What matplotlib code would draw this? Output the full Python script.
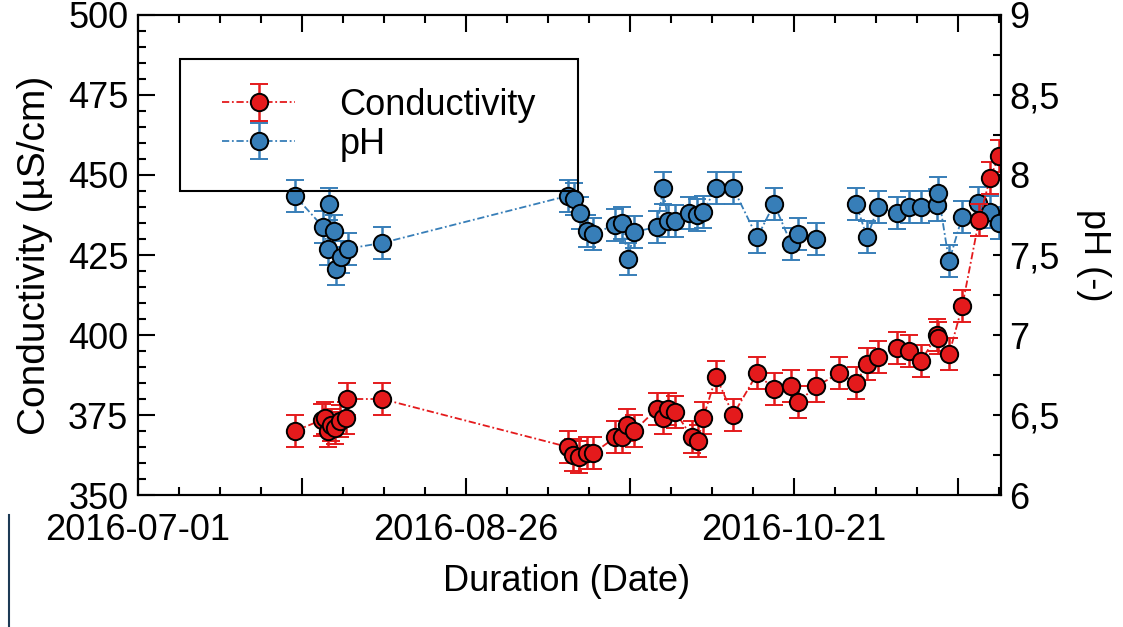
import numpy as np
import pandas as pd
import matplotlib
matplotlib.use("Agg")
import matplotlib.pyplot as plt
from matplotlib.ticker import MultipleLocator, FuncFormatter
from matplotlib.patches import Rectangle
from matplotlib.lines import Line2D

plt.rcParams["font.family"] = ["Liberation Sans", "DejaVu Sans"]
plt.rcParams["font.size"] = 26

# -----------------------------
# Data
# -----------------------------
cond_dates = [
    "2016-07-27 19:00", "2016-08-01 10:00", "2016-08-01 22:00", "2016-08-02 11:00",
    "2016-08-02 23:00", "2016-08-03 15:00", "2016-08-04 12:00", "2016-08-05 12:00",
    "2016-08-05 16:00", "2016-08-11 16:00", "2016-09-12 10:00", "2016-09-13 06:00",
    "2016-09-14 07:00", "2016-09-15 16:00", "2016-09-16 16:00", "2016-09-20 11:00",
    "2016-09-21 15:00", "2016-09-22 12:00", "2016-09-23 16:00", "2016-09-27 15:00",
    "2016-09-28 15:00", "2016-09-29 12:00", "2016-09-30 17:00", "2016-10-03 14:00",
    "2016-10-04 15:00", "2016-10-05 11:00", "2016-10-07 17:00", "2016-10-10 14:00",
    "2016-10-14 17:00", "2016-10-17 14:00", "2016-10-20 12:00", "2016-10-21 17:00",
    "2016-10-24 18:00", "2016-10-28 17:00", "2016-10-31 14:00", "2016-11-02 11:00",
    "2016-11-04 08:00", "2016-11-07 14:00", "2016-11-09 15:00", "2016-11-11 17:00",
    "2016-11-14 10:00", "2016-11-14 14:00", "2016-11-16 11:00", "2016-11-18 17:00",
    "2016-11-21 14:00", "2016-11-23 11:00", "2016-11-25 00:00",
]
cond_values = [
    370, 373.5, 374, 370, 372, 371, 373, 374, 380, 380,
    365, 362.5, 362, 363, 363, 368, 368, 372, 370, 377,
    374, 377, 376, 368, 367, 374, 387, 375, 388, 383,
    384, 379, 384, 388, 385, 391, 393, 396, 395, 392,
    400, 399, 394, 409, 436, 449, 456,
]

ph_dates = [
    "2016-07-27 19:00", "2016-08-01 14:00", "2016-08-02 11:00", "2016-08-02 15:00",
    "2016-08-03 11:00", "2016-08-03 19:00", "2016-08-04 16:00", "2016-08-05 20:00",
    "2016-08-11 16:00", "2016-09-12 10:00", "2016-09-13 11:00", "2016-09-14 11:00",
    "2016-09-15 16:00", "2016-09-16 16:00", "2016-09-20 11:00", "2016-09-21 15:00",
    "2016-09-22 16:00", "2016-09-23 16:00", "2016-09-27 15:00", "2016-09-28 15:00",
    "2016-09-29 12:00", "2016-09-30 17:00", "2016-10-03 02:00", "2016-10-04 11:00",
    "2016-10-05 11:00", "2016-10-07 17:00", "2016-10-10 14:00", "2016-10-14 17:00",
    "2016-10-17 14:00", "2016-10-20 12:00", "2016-10-21 17:00", "2016-10-24 18:00",
    "2016-10-28 17:00", "2016-10-31 14:00", "2016-11-02 11:00", "2016-11-04 08:00",
    "2016-11-07 14:00", "2016-11-09 15:00", "2016-11-11 17:00", "2016-11-14 10:00",
    "2016-11-14 14:00", "2016-11-16 11:00", "2016-11-18 17:00", "2016-11-21 10:00",
    "2016-11-23 11:00", "2016-11-25 00:00",
]
ph_values = [
    7.87, 7.675, 7.54, 7.82, 7.65, 7.41, 7.49, 7.54, 7.575,
    7.87, 7.85, 7.76, 7.65, 7.63, 7.69, 7.70, 7.475, 7.645,
    7.675, 7.92, 7.71, 7.71, 7.76, 7.75, 7.77, 7.92, 7.92,
    7.61, 7.82, 7.57, 7.63, 7.60, np.nan, 7.82, 7.61, 7.80,
    7.76, 7.80, 7.80, 7.81, 7.89, 7.46, 7.74, 7.825, 7.77, 7.70,
]

COND_ERR = 5.0
PH_ERR = 0.1

X_START = pd.Timestamp("2016-07-01")
X_END = pd.Timestamp("2016-11-25 08:00")
major_dates = pd.date_range(X_START, periods=6, freq="28D")
minor_dates = pd.date_range(X_START, X_END, freq="7D")

RED = "#e41a1c"
BLUE = "#377eb8"
LINE_STYLE = (0, (4, 1.5, 1, 1.5))

cond_t = pd.to_datetime(cond_dates)
ph_t = pd.to_datetime(ph_dates)

# -----------------------------
# Figure
# -----------------------------
fig = plt.figure(figsize=(11.23, 6.27), dpi=100)
ax = fig.add_axes([0.1229, 0.2105, 0.7685, 0.7656])
ax2 = ax.twinx()

style = dict(marker="o", ms=12.5, mec="black", mew=1.4, lw=1.3, ls=LINE_STYLE,
             elinewidth=1.8, capsize=6.3, capthick=2.2)

h_ph = ax2.errorbar(ph_t, ph_values, yerr=PH_ERR, color=BLUE, mfc=BLUE,
                    label="pH", **style)
h_cond = ax.errorbar(cond_t, cond_values, yerr=COND_ERR, color=RED, mfc=RED,
                     label="Conductivity", **style)

# conductivity on top of pH
ax.set_zorder(ax2.get_zorder() + 1)
ax.patch.set_visible(False)

ax.set_xlim(X_START, X_END)
ax.set_ylim(350, 500)
ax2.set_ylim(6, 9)

ax.set_xticks(major_dates)
ax.set_xticklabels([d.strftime("%Y-%m-%d") if i % 2 == 0 else "" for i, d in enumerate(major_dates)])
ax.set_xticks(minor_dates, minor=True)
ax.yaxis.set_major_locator(MultipleLocator(25))
ax.yaxis.set_minor_locator(MultipleLocator(5))
ax2.yaxis.set_major_locator(MultipleLocator(0.5))
ax2.yaxis.set_minor_locator(MultipleLocator(0.25))
ax2.yaxis.set_major_formatter(FuncFormatter(lambda v, _: f"{v:g}".replace(".", ",")))

ax.tick_params(axis="both", which="both", direction="in", width=1.5, top=True, right=False)
ax.tick_params(which="major", length=12)
ax.tick_params(which="minor", length=6)
ax.tick_params(axis="x", pad=13)
ax.tick_params(axis="y", pad=7)
ax2.tick_params(axis="y", which="both", direction="in", width=1.5, length=6, pad=6)

for a in (ax, ax2):
    for s in a.spines.values():
        s.set_linewidth(1.5)

ax.set_ylabel("Conductivity (µS/cm)", fontsize=28, va="center", rotation_mode="anchor")
ax.yaxis.set_label_coords(-0.119, 0.5)
ax.set_xlabel("Duration (Date)", va="center")
ax.xaxis.set_label_coords(0.497, -0.181)
ax2.set_ylabel("pH (-)", rotation=270, va="center", ha="center", rotation_mode="anchor")
ax2.yaxis.set_label_coords(1.1066, 0.5)

# legend frame drawn separately so the markers sit over it
ax.add_patch(Rectangle((0.0487, 0.633), 0.461, 0.275, transform=ax.transAxes,
                       fill=False, lw=1.5, ec="black", zorder=1.5))
ax.legend([h_cond, h_ph], ["Conductivity", "pH"], loc="center left",
          bbox_to_anchor=(0.0973, 0.771), frameon=False, borderpad=0,
          borderaxespad=0, handlelength=2.03, handletextpad=1.22, labelspacing=0.1)

fig.add_artist(Line2D([0.008, 0.008], [0, 0.179], transform=fig.transFigure,
                      color="#1d3a55", lw=1.5))

fig.savefig("out.png", dpi=100)
